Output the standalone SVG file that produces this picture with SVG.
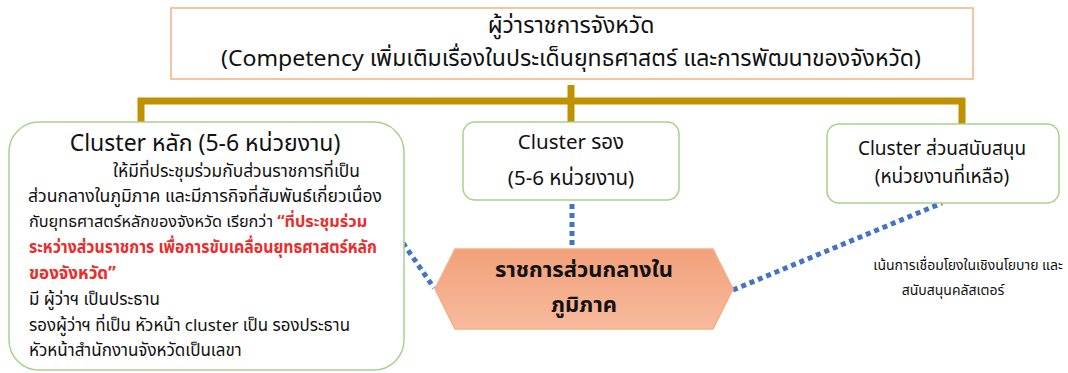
<svg xmlns="http://www.w3.org/2000/svg" width="1068" height="373" viewBox="0 0 1068 373">
<defs>
<linearGradient id="hexFill" x1="0" y1="0" x2="0" y2="1">
<stop offset="0" stop-color="#f2a07a"/>
<stop offset="1" stop-color="#f7bb9d"/>
</linearGradient>
<style>
text{font-family:"Noto Sans Thai","Noto Sans","DejaVu Sans",sans-serif;fill:#111}
.gbox{fill:#fff;stroke:#a9d18e;stroke-width:1.5}
.bracket{fill:none;stroke:#bf9000;stroke-width:7;stroke-linejoin:miter}
.dot{fill:none;stroke:#4472c4;stroke-width:5;stroke-dasharray:5 4}
.c{text-anchor:middle}
.red{fill:#ee2b2b;font-weight:bold}
</style>
</defs>
<rect width="1068" height="373" fill="#fff"/>
<g id="connectors">
<path class="bracket" d="M141 122 V101 H962 V124"/>
<path class="bracket" d="M571 85 V122"/>
<path class="dot" d="M572 204 V246"/>
<path class="dot" d="M403 243 L434 288"/>
<path class="dot" d="M733 290 L942 203"/>
</g>
<g id="governor">
<rect x="171" y="8" width="802" height="71" fill="#fff" stroke="#f4b183" stroke-width="1.5"/>
<text class="c" x="571" y="33" font-size="23">ผู้ว่าราชการจังหวัด</text>
<text class="c" x="571" y="66" font-size="22.5" textLength="700" lengthAdjust="spacingAndGlyphs">(Competency เพิ่มเติมเรื่องในประเด็นยุทธศาสตร์ และการพัฒนาของจังหวัด)</text>
</g>
<g id="cluster-main">
<rect class="gbox" x="9" y="122" width="395" height="248" rx="30"/>
<text class="c" x="205" y="151" font-size="23">Cluster หลัก (5-6 หน่วยงาน)</text>
<g font-size="17">
<text x="113" y="177" textLength="247" lengthAdjust="spacingAndGlyphs">ให้มีที่ประชุมร่วมกับส่วนราชการที่เป็น</text>
<text x="28" y="202" textLength="354" lengthAdjust="spacingAndGlyphs">ส่วนกลางในภูมิภาค และมีภารกิจที่สัมพันธ์เกี่ยวเนื่อง</text>
<text x="29" y="227" font-size="16.3">กับยุทธศาสตร์หลักของจังหวัด เรียกว่า <tspan class="red">“ที่ประชุมร่วม</tspan></text>
<text x="29" y="253" class="red" textLength="348" lengthAdjust="spacingAndGlyphs">ระหว่างส่วนราชการ เพื่อการขับเคลื่อนยุทธศาสตร์หลัก</text>
<text x="29" y="279" class="red">ของจังหวัด”</text>
<text x="29" y="305">มี ผู้ว่าฯ เป็นประธาน</text>
<text x="29" y="331" textLength="321" lengthAdjust="spacingAndGlyphs">รองผู้ว่าฯ ที่เป็น หัวหน้า cluster เป็น รองประธาน</text>
<text x="29" y="356">หัวหน้าสำนักงานจังหวัดเป็นเลขา</text>
</g>
</g>
<g id="cluster-second">
<rect class="gbox" x="463" y="122" width="216" height="78" rx="12"/>
<text class="c" x="571" y="149" font-size="20.5">Cluster รอง</text>
<text class="c" x="571" y="185" font-size="20.5">(5-6 หน่วยงาน)</text>
</g>
<g id="cluster-support">
<rect class="gbox" x="827" y="124" width="232" height="79" rx="12"/>
<text class="c" x="942" y="155" font-size="19">Cluster ส่วนสนับสนุน</text>
<text class="c" x="942" y="183" font-size="19">(หน่วยงานที่เหลือ)</text>
</g>
<g id="central-regional">
<polygon points="435,289 455,249 713,249 733,289 713,329 455,329" fill="url(#hexFill)" stroke="#f4b183" stroke-width="1.5"/>
<text class="c" x="584" y="277" font-size="22" font-weight="bold">ราชการส่วนกลางใน</text>
<text class="c" x="584" y="312" font-size="22" font-weight="bold">ภูมิภาค</text>
</g>
<g id="note">
<text class="c" x="968" y="270" font-size="14">เน้นการเชื่อมโยงในเชิงนโยบาย และ</text>
<text class="c" x="953" y="295" font-size="14">สนับสนุนคลัสเตอร์</text>
</g>
</svg>
